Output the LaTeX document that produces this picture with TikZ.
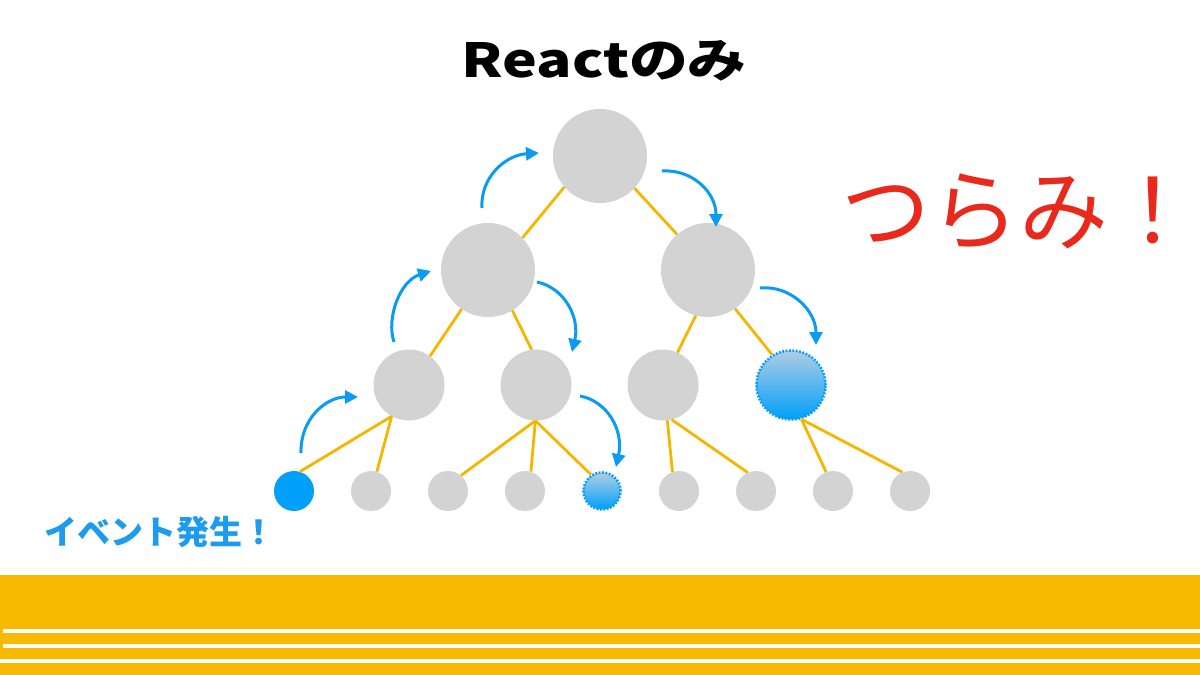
\documentclass[tikz,border=0pt]{standalone}
\usepackage{fontspec}
\newfontfamily\jpfont{Noto Sans CJK JP}
\newfontfamily\titlefont{Noto Sans CJK JP}[FakeStretch=1.25]
\usetikzlibrary{arrows.meta}
\definecolor{nodegray}{HTML}{D4D3D4}
\definecolor{edgeyellow}{HTML}{F6B600}
\definecolor{bandyellow}{HTML}{F7BA00}
\definecolor{flowblue}{HTML}{0A9CF2}
\definecolor{hitblue}{HTML}{00A0FA}
\definecolor{lightblue}{HTML}{B0CDE2}
\definecolor{alertred}{HTML}{E8291C}
\definecolor{labelblue}{HTML}{1C9BEF}
\begin{document}
\begin{tikzpicture}[x=1pt,y=-1pt,
  big/.style={circle,fill=nodegray,inner sep=0pt,minimum size=94pt},
  mid/.style={circle,fill=nodegray,inner sep=0pt,minimum size=71pt},
  leaf/.style={circle,fill=nodegray,inner sep=0pt,minimum size=40pt},
  rerender/.style={circle,inner sep=0pt,top color=lightblue,bottom color=hitblue,draw=hitblue,line width=2.6pt,dash pattern=on 1.8pt off 1.6pt},
  source/.style={circle,fill=hitblue,inner sep=0pt,minimum size=40pt},
  link/.style={draw=edgeyellow,line width=2.8pt},
  flow/.style={draw=flowblue,line width=3pt,-{Triangle[length=13pt,width=13pt]}},
  stripe/.style={draw=white,line width=4pt}
]
\useasboundingbox (0,0) rectangle (1200,675);
\fill[white] (0,0) rectangle (1200,675);
% bottom band
\fill[bandyellow] (0,575) rectangle (1200,675);
\draw[stripe] (3,631) -- (1200,631);
\draw[stripe] (3,646) -- (1200,646);
\draw[stripe] (0,661) -- (1200,661);
% tree nodes
\node[big] (root) at (600,156) {};
\node[big] (l1a) at (488,270) {};
\node[big] (l1b) at (708,270) {};
\node[mid] (l2a) at (409,385) {};
\node[mid] (l2b) at (536,385) {};
\node[mid] (l2c) at (663,385) {};
\node[rerender,minimum size=69pt] (l2d) at (791,385) {};
\node[source] (b1) at (294,491) {};
\node[leaf] (b2) at (371,491) {};
\node[leaf] (b3) at (448,491) {};
\node[leaf] (b4) at (525,491) {};
\node[rerender,minimum size=37pt] (b5) at (602,491) {};
\node[leaf] (b6) at (679,491) {};
\node[leaf] (b7) at (756,491) {};
\node[leaf] (b8) at (833,491) {};
\node[leaf] (b9) at (910,491) {};
% edges
\draw[link] (root.221) -- (l1a.43);
\draw[link] (root.317) -- (l1b.131);
\draw[link] (l1a.236) -- (l2a.54);
\draw[link] (l1a.301) -- (l2b.97);
\draw[link] (l1b.255) -- (l2c.66);
\draw[link] (l1b.305) -- (l2d.122);
\draw[link] (l2a.241) -- (b1.73);
\draw[link] (l2a.241) -- (b2.73);
\draw[link] (l2b.269) -- (b3.50);
\draw[link] (l2b.269) -- (b4.73);
\draw[link] (l2b.269) -- (b5.124);
\draw[link] (l2c.277) -- (b6.109);
\draw[link] (l2c.284) -- (b7.114);
\draw[link] (l2d.287) -- (b8.110);
\draw[link] (l2d.287) -- (b9.112);
% flow arrows
\coordinate (as) at (301,453); \coordinate (ae) at (358,397);
\coordinate (bs) at (394,342); \coordinate (be) at (431,271);
\coordinate (cs) at (482,208); \coordinate (ce) at (539,153);
\coordinate (ds) at (662,171); \coordinate (de) at (716,227);
\coordinate (es) at (537,282); \coordinate (ee) at (572,352);
\coordinate (fs) at (580,396); \coordinate (fe) at (616,467);
\coordinate (gs) at (760,288); \coordinate (ge) at (816,345);
\draw[flow] (as) .. controls (300,420) and (325,397) .. (ae);
\draw[flow] (bs) .. controls (386,318) and (400,281) .. (be);
\draw[flow] (cs) .. controls (480,178) and (505,155) .. (ce);
\draw[flow] (ds) .. controls (692,169) and (716,192) .. (de);
\draw[flow] (es) .. controls (565,288) and (580,318) .. (ee);
\draw[flow] (fs) .. controls (607,401) and (624,430) .. (fe);
\draw[flow] (gs) .. controls (790,285) and (816,310) .. (ge);
% texts
\node[anchor=base,inner sep=0pt,font=\titlefont\bfseries\fontsize{47}{50}\selectfont] (title) at (604,77) {Reactのみ};
\node[anchor=base west,inner sep=0pt,text=alertred,font=\jpfont\fontsize{89}{94}\selectfont] (pain) at (841,243) {つらみ！};
\node[anchor=base,inner sep=0pt,text=labelblue,font=\jpfont\bfseries\fontsize{33}{36}\selectfont] (event) at (160,544) {イベント発生！};
\end{tikzpicture}
\end{document}
